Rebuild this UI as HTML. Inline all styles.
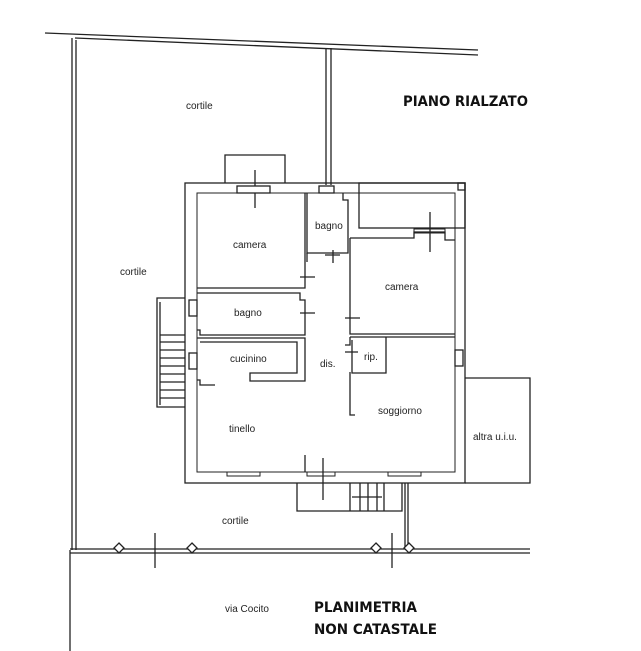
<!DOCTYPE html>
<html><head><meta charset="utf-8"><style>
html,body{margin:0;padding:0;background:#fff}
svg{display:block}
.t{font-family:"Liberation Sans",sans-serif;font-size:10px;fill:#222}
.b{font-family:"DejaVu Sans","Liberation Sans",sans-serif;font-size:14px;fill:#111;font-weight:bold}
</style></head><body>
<svg width="641" height="651" viewBox="0 0 641 651" xmlns="http://www.w3.org/2000/svg">
<g fill="none" stroke="#222" stroke-width="1.3">
<path d="M45 33 L478 50"/>
<path d="M75 38 L478 55"/>
<path d="M72 38 V550"/><path d="M76 40 V550"/>
<path d="M70 550 V651"/>
<path d="M326 48 V185"/><path d="M331 48 V185"/>
<path d="M70 549 H530"/><path d="M70 553 H530"/>
<path d="M405 483 V549"/><path d="M408 483 V549"/>
<path d="M155 533 V568"/><path d="M392 533 V568"/>
<path d="M119 543 l5 5 l-5 5 l-5 -5z" fill="#fff"/>
<path d="M192 543 l5 5 l-5 5 l-5 -5z" fill="#fff"/>
<path d="M376 543 l5 5 l-5 5 l-5 -5z" fill="#fff"/>
<path d="M409 543 l5 5 l-5 5 l-5 -5z" fill="#fff"/>
<rect x="185" y="183" width="280" height="300"/>
<rect x="197" y="193" width="258" height="279" stroke-width="1"/>
<path d="M225 183 V155 H285 V183"/>
<path d="M255 170 V208"/>
<rect x="359" y="183" width="106" height="45"/>
<rect x="458" y="183" width="7" height="7"/>
<path d="M430 212 V252"/>
<path d="M197 288 H305 V193"/>
<path d="M197 293 H300 V300 H305 V335 H200 V330 H197"/>
<path d="M197 338 H305 V381 H250 V373 H297 V342 H200"/>
<path d="M197 380 H200 V385 H215"/>
<path d="M307 193 V253 H348 V200 H343 V193"/>
<path d="M307 253 V262"/>
<path d="M350 238 V334 H455"/>
<path d="M350 238 H414 V232 H445 V240 H455"/>
<path d="M350 337 H455"/>
<path d="M352 340 V373 H386 V337"/>
<path d="M350 372 V415 H355"/>
<path d="M350 337 V345 H345"/>
<path d="M305 455 V472"/>
<path d="M300 277 H315 M300 313 H315 M345 318 H360 M345 352 H358 M325 255 H340 M333 250 V263"/>
<path d="M323 458 V500"/>
<rect x="227" y="472" width="33" height="4" stroke-width="1"/>
<rect x="307" y="472" width="28" height="4" stroke-width="1"/>
<rect x="388" y="472" width="33" height="4" stroke-width="1"/>
<rect x="237" y="186" width="33" height="7" fill="#fff"/>
<rect x="319" y="186" width="15" height="7" fill="#fff"/>
<rect x="414" y="229" width="31" height="4" stroke-width="1"/>
<rect x="189" y="300" width="8" height="16" fill="#fff"/>
<rect x="189" y="353" width="8" height="16" fill="#fff"/>
<rect x="455" y="350" width="8" height="16" fill="#fff"/>
<path d="M185 298 H157 V407 H185"/>
<path d="M160 302 V405"/>
<path d="M160 335 H185 M160 342 H185 M160 350 H185 M160 358 H185 M160 366 H185 M160 374 H185 M160 382 H185 M160 390 H185 M160 398 H185"/>
<path d="M297 483 V511 H402 V483"/>
<path d="M350 483 V511 M360 483 V511 M368 483 V511 M377 483 V511 M384 483 V511 M352 497 H382"/>
<path d="M465 378 H530 V483 H465"/>
</g>
<text class="t" x="186" y="109">cortile</text>
<text class="t" x="120" y="275">cortile</text>
<text class="t" x="233" y="248">camera</text>
<text class="t" x="234" y="316">bagno</text>
<text class="t" x="230" y="362">cucinino</text>
<text class="t" x="229" y="432">tinello</text>
<text class="t" x="315" y="229">bagno</text>
<text class="t" x="385" y="290">camera</text>
<text class="t" x="364" y="360">rip.</text>
<text class="t" x="320" y="367">dis.</text>
<text class="t" x="378" y="414">soggiorno</text>
<text class="t" x="473" y="440">altra u.i.u.</text>
<text class="t" x="222" y="524">cortile</text>
<text class="t" x="225" y="612">via Cocito</text>
<text class="b" x="403" y="106" textLength="125" lengthAdjust="spacingAndGlyphs">PIANO RIALZATO</text>
<text class="b" x="314" y="612" textLength="103" lengthAdjust="spacingAndGlyphs">PLANIMETRIA</text>
<text class="b" x="314" y="634" textLength="123" lengthAdjust="spacingAndGlyphs">NON CATASTALE</text>
</svg>
</body></html>
